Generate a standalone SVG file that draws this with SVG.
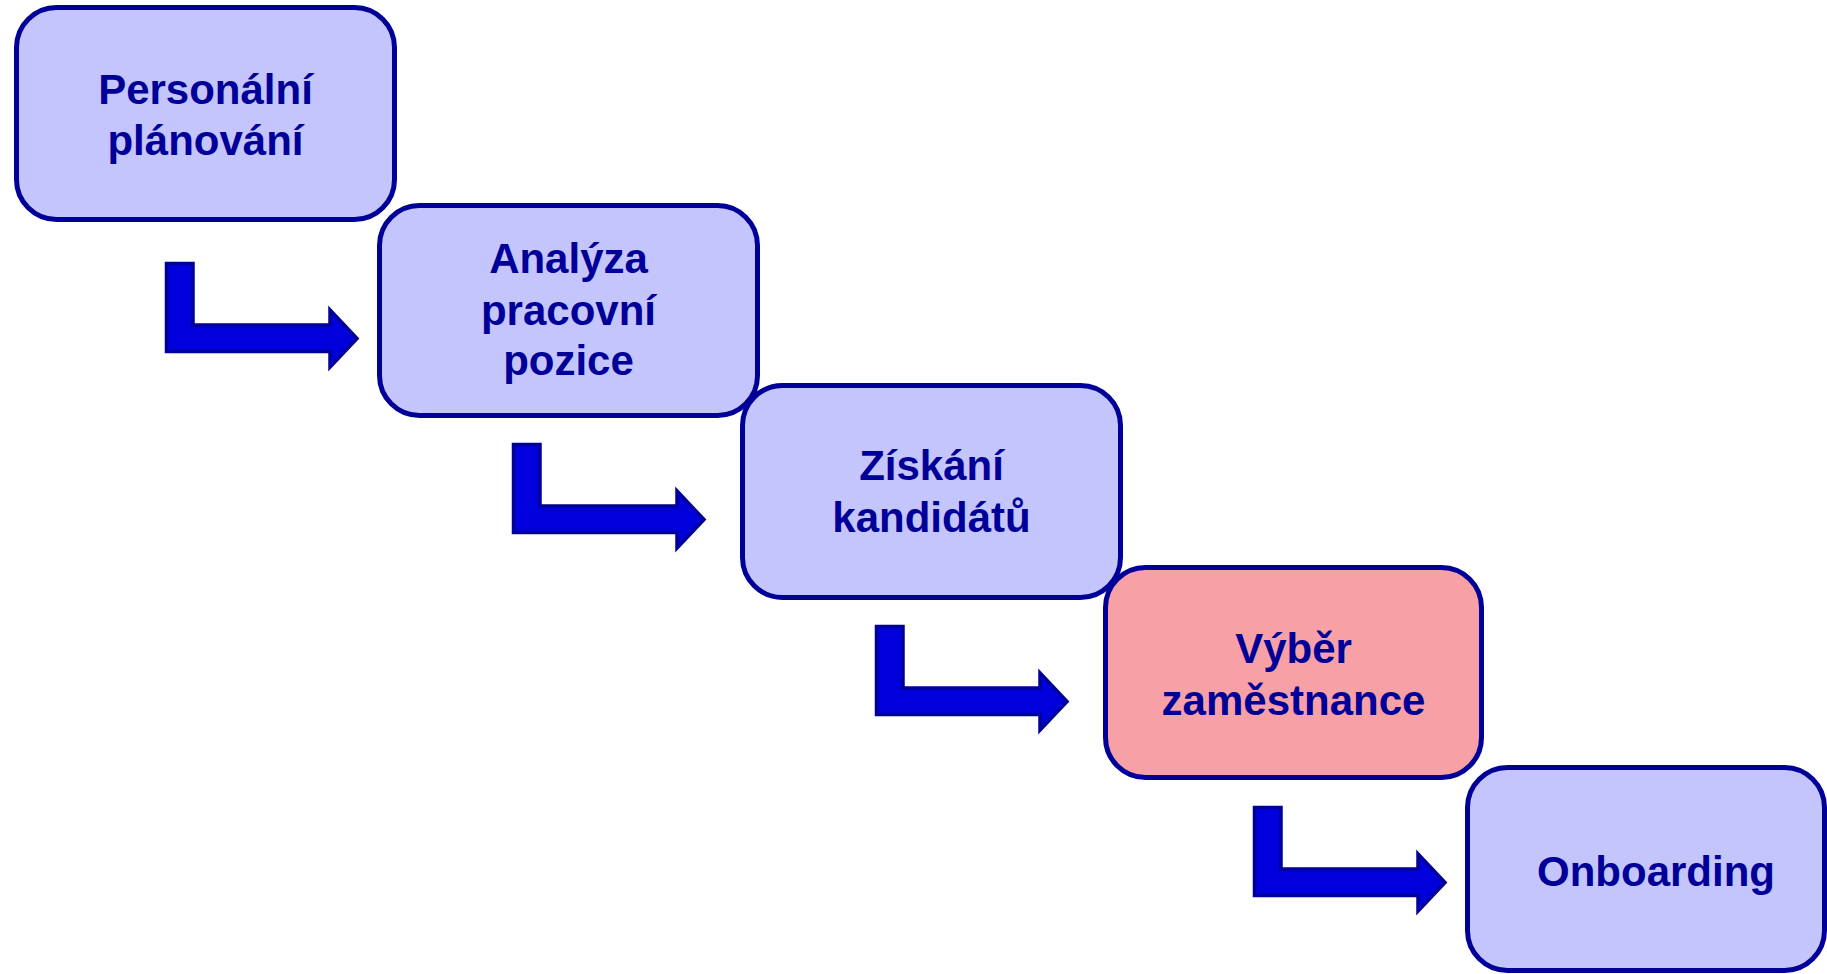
<svg xmlns="http://www.w3.org/2000/svg" width="1827" height="974" viewBox="0 0 1827 974">
<style>
.box{fill:#C5C5FE;stroke:#000099;stroke-width:5}
.pink{fill:#F7A1A7;stroke:#000099;stroke-width:5}
.lbl{font-family:"Liberation Sans",Arial,sans-serif;font-weight:bold;font-size:42px;fill:#000099;text-anchor:middle}
.arr{fill:#0000DD;stroke:#000099;stroke-width:3.5;stroke-linejoin:miter}
</style>
<defs>
<path id="bent" d="M1.5,1.5 H28 V63 H165 V48 L192,76.5 L165,105 V89.5 H1.5 Z"/>
</defs>
<rect width="1827" height="974" fill="#FFFFFF"/>
<g id="connectors">
<use href="#bent" class="arr" transform="translate(165,262)"/>
<use href="#bent" class="arr" transform="translate(512,443)"/>
<use href="#bent" class="arr" transform="translate(875,625)"/>
<use href="#bent" class="arr" transform="translate(1253,806)"/>
</g>
<g id="node1">
<rect class="box" x="16.5" y="7.5" width="378" height="212" rx="40"/>
<text class="lbl" x="205.5" y="104">Personální</text>
<text class="lbl" x="205.5" y="155">plánování</text>
</g>
<g id="node2">
<rect class="box" x="379.5" y="205.5" width="378" height="210" rx="40"/>
<text class="lbl" x="568.5" y="273">Analýza</text>
<text class="lbl" x="568.5" y="325">pracovní</text>
<text class="lbl" x="568.5" y="375">pozice</text>
</g>
<g id="node3">
<rect class="box" x="742.5" y="385.5" width="378" height="212" rx="40"/>
<text class="lbl" x="931.5" y="480">Získání</text>
<text class="lbl" x="931.5" y="532">kandidátů</text>
</g>
<g id="node4">
<rect class="pink" x="1105.5" y="567.5" width="376" height="210" rx="40"/>
<text class="lbl" x="1293.5" y="663">Výběr</text>
<text class="lbl" x="1293.5" y="715">zaměstnance</text>
</g>
<g id="node5">
<rect class="box" x="1467.5" y="767.5" width="357" height="203" rx="40"/>
<text class="lbl" x="1656" y="886">Onboarding</text>
</g>
</svg>
